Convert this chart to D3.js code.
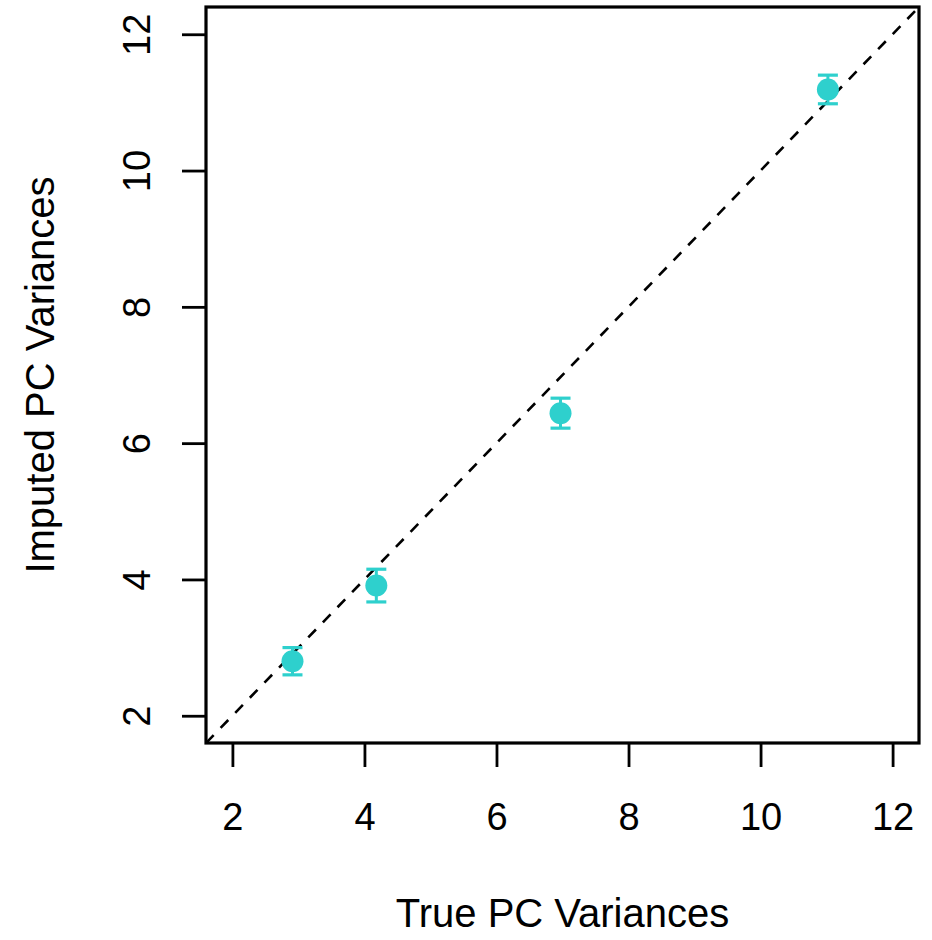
<!DOCTYPE html>
<html>
<head>
<meta charset="utf-8">
<script src="https://cdn.jsdelivr.net/npm/d3@7/dist/d3.min.js"></script>
<style>
  body { margin: 0; background: #fff; }
  svg { display: block; }
</style>
</head>
<body>
<div id="chart"></div>
<script>
// values
var trueVar = [2.91, 4.18, 6.97, 11.02];
var imputedVar = [2.80, 3.91, 6.44, 11.19];
var imputedErr = [0.20, 0.24, 0.22, 0.21];
var xTicks = [2, 4, 6, 8, 10, 12];
var yTicks = [2, 4, 6, 8, 10, 12];
var xLabel = "True PC Variances";
var yLabel = "Imputed PC Variances";

var width = 932, height = 940;
var box = { left: 206, right: 919, top: 7, bottom: 743 };
var tickFont = 38, titleFont = 40;
var pointColor = "#2ed0cd";
var fam = "'Liberation Sans', Arial, Helvetica, sans-serif";

var svg = d3.select("#chart").append("svg")
    .attr("width", width)
    .attr("height", height)
    .attr("font-family", fam);

var x = d3.scaleLinear().domain([1.6, 12.4]).range([box.left, box.right]);
var y = d3.scaleLinear().domain([1.6, 12.4]).range([box.bottom, box.top]);

svg.append("defs").append("clipPath").attr("id", "plot-clip")
    .append("rect")
    .attr("x", box.left)
    .attr("y", box.top)
    .attr("width", box.right - box.left)
    .attr("height", box.bottom - box.top);

// axes
var xAxis = svg.append("g")
    .attr("transform", "translate(0," + box.bottom + ")")
    .call(d3.axisBottom(x).tickValues(xTicks).tickSize(24).tickPadding(36).tickFormat(d3.format("d")));
var yAxis = svg.append("g")
    .attr("transform", "translate(" + box.left + ",0)")
    .call(d3.axisLeft(y).tickValues(yTicks).tickSize(24).tickFormat(d3.format("d")));

function styleAxis(g) {
    g.select(".domain").remove();
    g.selectAll(".tick line").attr("stroke", "#000").attr("stroke-width", 2.8);
    g.selectAll(".tick text")
        .attr("fill", "#000")
        .attr("font-size", tickFont)
        .attr("font-family", fam);
}
styleAxis(xAxis);
styleAxis(yAxis);

// y tick labels are written vertically, like base R
yAxis.selectAll(".tick text")
    .attr("x", null)
    .attr("dy", null)
    .attr("text-anchor", "middle")
    .attr("transform", "translate(-56,0) rotate(-90)");

// y = x reference line
svg.append("line")
    .attr("clip-path", "url(#plot-clip)")
    .attr("x1", x(1.6))
    .attr("y1", y(1.6))
    .attr("x2", x(12.4))
    .attr("y2", y(12.4))
    .attr("stroke", "#000")
    .attr("stroke-width", 2.6)
    .attr("stroke-dasharray", "11,10");

// error bars and points
var pts = svg.append("g").selectAll("g")
    .data(trueVar.map(function (d, i) { return { x: d, y: imputedVar[i], e: imputedErr[i] }; }))
    .enter().append("g");

pts.append("line")
    .attr("x1", function (d) { return x(d.x); })
    .attr("x2", function (d) { return x(d.x); })
    .attr("y1", function (d) { return y(d.y - d.e); })
    .attr("y2", function (d) { return y(d.y + d.e); })
    .attr("stroke", pointColor)
    .attr("stroke-width", 3);

[-1, 1].forEach(function (s) {
    pts.append("line")
        .attr("x1", function (d) { return x(d.x) - 10; })
        .attr("x2", function (d) { return x(d.x) + 10; })
        .attr("y1", function (d) { return y(d.y + s * d.e); })
        .attr("y2", function (d) { return y(d.y + s * d.e); })
        .attr("stroke", pointColor)
        .attr("stroke-width", 3.2);
});

pts.append("circle")
    .attr("cx", function (d) { return x(d.x); })
    .attr("cy", function (d) { return y(d.y); })
    .attr("r", 11)
    .attr("fill", pointColor);

// plot box
svg.append("rect")
    .attr("x", box.left)
    .attr("y", box.top)
    .attr("width", box.right - box.left)
    .attr("height", box.bottom - box.top)
    .attr("fill", "none")
    .attr("stroke", "#000")
    .attr("stroke-width", 3.2);

// axis titles
svg.append("text")
    .attr("x", (box.left + box.right) / 2)
    .attr("y", 927)
    .attr("text-anchor", "middle")
    .attr("font-size", titleFont)
    .text(xLabel);

svg.append("text")
    .attr("transform", "translate(54," + (box.top + box.bottom) / 2 + ") rotate(-90)")
    .attr("text-anchor", "middle")
    .attr("font-size", titleFont)
    .text(yLabel);
</script>
</body>
</html>
